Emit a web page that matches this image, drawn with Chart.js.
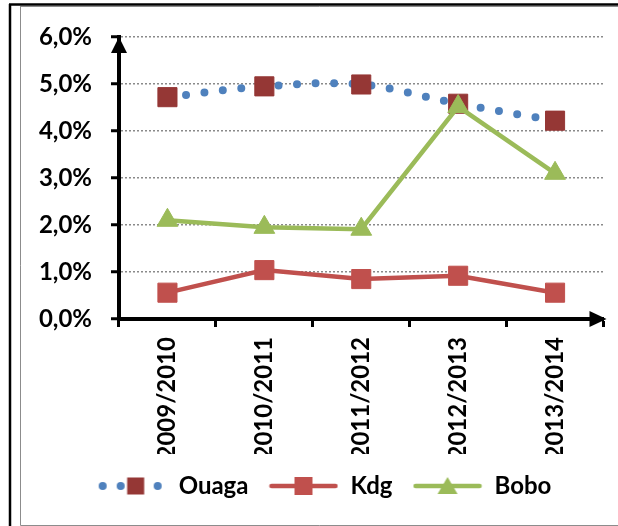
<!DOCTYPE html>
<html>
<head>
<meta charset="utf-8">
<script src="https://cdn.jsdelivr.net/npm/chart.js@4/dist/chart.umd.min.js"></script>
<style>
  html, body { margin: 0; padding: 0; background: #fff; }
  canvas { display: block; }
</style>
</head>
<body>
<canvas id="chart" width="618" height="526"></canvas>
<script>
const seasons = ["2009/2010", "2010/2011", "2011/2012", "2012/2013", "2013/2014"];
const ouaga = [4.72, 4.95, 4.99, 4.58, 4.22];
const kdg = [0.56, 1.04, 0.85, 0.92, 0.56];
const bobo = [2.10, 1.95, 1.91, 4.52, 3.10];
const yTickLabels = ["0,0%", "1,0%", "2,0%", "3,0%", "4,0%", "5,0%", "6,0%"];

const BLUE = "#4F81BD", DARKRED = "#953735", RED = "#C0504D", GREEN = "#9BBB59";

// legend icons: line + marker like the Excel legend
function makeIcon(kind) {
    const c = document.createElement("canvas");
    c.width = 70; c.height = 24;
    const g = c.getContext("2d");
    const cy = 12;
    if (kind === "ouaga") {
        g.fillStyle = BLUE;
        [6, 24, 61].forEach(x => { g.beginPath(); g.arc(x, cy, 4, 0, Math.PI * 2); g.fill(); });
        g.fillStyle = DARKRED;
        g.fillRect(39 - 8.5, cy - 8.5, 17, 17);
    } else {
        const col = kind === "kdg" ? RED : GREEN;
        g.strokeStyle = col; g.lineWidth = 4.5; g.lineCap = "round";
        g.beginPath(); g.moveTo(3, cy); g.lineTo(67, cy); g.stroke();
        g.fillStyle = col;
        if (kind === "kdg") {
            g.fillRect(35 - 9, cy - 9, 18, 18);
        } else {
            g.beginPath(); g.moveTo(35, cy - 9); g.lineTo(45, cy + 8); g.lineTo(25, cy + 8); g.closePath(); g.fill();
        }
    }
    return c;
}
const icons = [makeIcon("ouaga"), makeIcon("kdg"), makeIcon("bobo")];

// frame + axis arrows
const decor = {
    id: "decor",
    beforeDraw(chart) {
        const ctx = chart.ctx;
        ctx.save();
        ctx.fillStyle = "#fff";
        ctx.fillRect(0, 0, chart.width, chart.height);
        ctx.strokeStyle = "#000"; ctx.lineWidth = 2.5;
        ctx.beginPath(); ctx.moveTo(9, 4.5); ctx.lineTo(618, 4.5); ctx.stroke();
        ctx.beginPath(); ctx.moveTo(10, 4); ctx.lineTo(10, 526); ctx.stroke();
        ctx.strokeStyle = "#8c8c8c"; ctx.lineWidth = 1;
        ctx.beginPath(); ctx.moveTo(20.5, 6.5); ctx.lineTo(618, 6.5); ctx.stroke();
        ctx.beginPath(); ctx.moveTo(20.5, 6); ctx.lineTo(20.5, 525.5); ctx.lineTo(618, 525.5); ctx.stroke();
        ctx.restore();
    },
    afterDatasetsDraw(chart) {
        const ctx = chart.ctx, a = chart.chartArea;
        const x0 = chart.scales.x.left, y0 = chart.scales.y.bottom;
        ctx.save();
        ctx.fillStyle = "#000";
        ctx.beginPath();
        ctx.moveTo(x0, a.top);
        ctx.lineTo(x0 + 8, a.top + 16);
        ctx.lineTo(x0 - 8, a.top + 16);
        ctx.closePath(); ctx.fill();
        ctx.beginPath();
        ctx.moveTo(a.right + 3, y0);
        ctx.lineTo(a.right - 14, y0 - 8);
        ctx.lineTo(a.right - 14, y0 + 8);
        ctx.closePath(); ctx.fill();
        ctx.restore();
    }
};

Chart.defaults.font.family = "Lato";
Chart.defaults.font.weight = "bold";
Chart.defaults.color = "#000";

new Chart(document.getElementById("chart").getContext("2d"), {
    type: "line",
    data: {
        labels: seasons,
        datasets: [{
            label: "Ouaga",
            data: ouaga,
            order: 2,
            borderColor: BLUE,
            borderWidth: 8,
            borderDash: [0, 18.6],
            borderCapStyle: "round",
            tension: 0.35,
            pointStyle: "rect",
            pointRadius: 13.5,
            pointBackgroundColor: DARKRED,
            pointBorderColor: DARKRED,
            pointBorderWidth: 1
        }, {
            label: "Kdg",
            data: kdg,
            order: 1,
            borderColor: RED,
            borderWidth: 4.5,
            tension: 0,
            pointStyle: "rect",
            pointRadius: 13.5,
            pointBackgroundColor: RED,
            pointBorderColor: RED,
            pointBorderWidth: 1
        }, {
            label: "Bobo",
            data: bobo,
            order: 0,
            borderColor: GREEN,
            borderWidth: 4.5,
            tension: 0,
            pointStyle: "triangle",
            pointRadius: 12,
            pointBackgroundColor: GREEN,
            pointBorderColor: GREEN,
            pointBorderWidth: 1
        }]
    },
    options: {
        responsive: false,
        animation: false,
        layout: { padding: { top: 37, left: 39, right: 9, bottom: 18 } },
        plugins: {
            tooltip: { enabled: false },
            legend: {
                position: "bottom",
                labels: {
                    usePointStyle: true,
                    pointStyleWidth: 70,
                    padding: 20,
                    font: { size: 24, weight: "bold" },
                    generateLabels: chart => chart.data.datasets.map((ds, i) => ({
                        text: ds.label,
                        datasetIndex: i,
                        pointStyle: icons[i],
                        fontColor: "#000",
                        lineWidth: 0,
                        hidden: false
                    }))
                }
            }
        },
        scales: {
            x: {
                offset: true,
                afterFit: s => { s.height = 135; },
                grid: {
                    offset: true,
                    drawOnChartArea: false,
                    tickColor: "#000",
                    tickWidth: 3,
                    tickLength: 8
                },
                border: { color: "#000", width: 4 },
                ticks: {
                    minRotation: 90,
                    maxRotation: 90,
                    padding: 10,
                    font: { size: 24, weight: "bold" }
                }
            },
            y: {
                min: 0,
                max: 6,
                afterFit: s => { s.width = 80; },
                grid: {
                    color: "#8a8a8a",
                    lineWidth: 1.5,
                    tickBorderDash: [],
                    tickColor: "#000",
                    tickWidth: 3,
                    tickLength: 8
                },
                border: { color: "#000", width: 4, dash: [2, 2] },
                ticks: {
                    stepSize: 1,
                    padding: 19,
                    font: { size: 24, weight: "bold" },
                    callback: (v, i) => yTickLabels[i]
                }
            }
        }
    },
    plugins: [decor]
});
</script>
</body>
</html>
